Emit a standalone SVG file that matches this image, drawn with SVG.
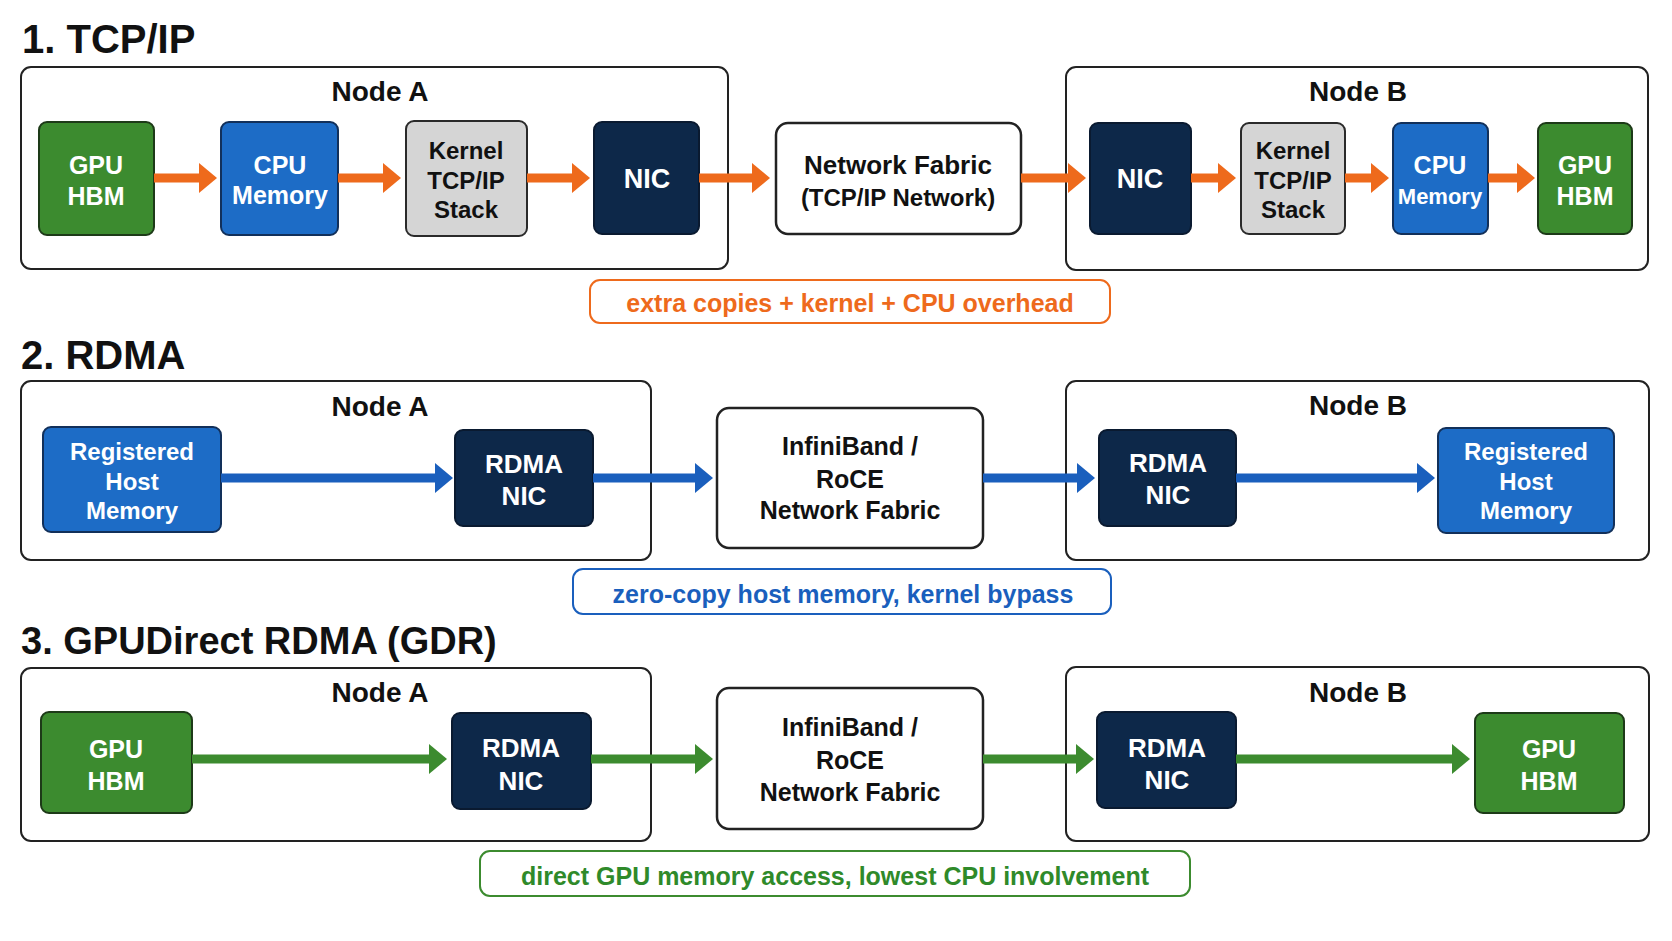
<svg xmlns="http://www.w3.org/2000/svg" width="1672" height="941" viewBox="0 0 1672 941">
<style>
text{font-family:"Liberation Sans",Arial,sans-serif;font-weight:bold;text-anchor:middle}
.title{font-size:40px;fill:#111;text-anchor:start}
.nodeLbl{font-size:28px;fill:#111}
.cont{fill:#fff;stroke:#222;stroke-width:2}
.gpu{fill:#3c8b2f;stroke:#1d3a18;stroke-width:2}
.cpu{fill:#1d6cc6;stroke:#12305a;stroke-width:2}
.kern{fill:#d5d5d5;stroke:#2a2a2a;stroke-width:2}
.nic{fill:#0d2849;stroke:#0a1a30;stroke-width:2}
.fab{fill:#fff;stroke:#222;stroke-width:2.5}
.wt{fill:#fff;font-size:25px}
.bt{fill:#111;font-size:24px}
.ft{fill:#111;font-size:25px}
.aO{stroke:#ee6a1c;stroke-width:9;fill:none}
.aB{stroke:#1a5fbd;stroke-width:9;fill:none}
.aG{stroke:#3c8b2f;stroke-width:9;fill:none}
.call{font-size:25px}
</style>
<defs>
<marker id="hO" markerUnits="userSpaceOnUse" markerWidth="18" markerHeight="30" refX="0" refY="15" orient="auto"><path d="M0,0 L18,15 L0,30 Z" fill="#ee6a1c"/></marker>
<marker id="hB" markerUnits="userSpaceOnUse" markerWidth="18" markerHeight="30" refX="0" refY="15" orient="auto"><path d="M0,0 L18,15 L0,30 Z" fill="#1a5fbd"/></marker>
<marker id="hG" markerUnits="userSpaceOnUse" markerWidth="18" markerHeight="30" refX="0" refY="15" orient="auto"><path d="M0,0 L18,15 L0,30 Z" fill="#3c8b2f"/></marker>
</defs>
<rect width="1672" height="941" fill="#fff"/>

<!-- Section 1 -->
<text class="title" x="22" y="53">1. TCP/IP</text>
<g id="s1-nodeA"><rect class="cont" x="21" y="67" width="707" height="202" rx="10"/><text class="nodeLbl" x="380" y="101">Node A</text></g>
<g id="s1-nodeB"><rect class="cont" x="1066" y="67" width="582" height="203" rx="10"/><text class="nodeLbl" x="1358" y="101">Node B</text></g>
<g id="s1-gpuA"><rect class="gpu" x="39" y="122" width="115" height="113" rx="8"/><text class="wt" x="96" y="174">GPU</text><text class="wt" x="96" y="205">HBM</text></g>
<g id="s1-cpuA"><rect class="cpu" x="221" y="122" width="117" height="113" rx="8"/><text class="wt" x="280" y="174">CPU</text><text class="wt" x="280" y="204">Memory</text></g>
<g id="s1-kernA"><rect class="kern" x="406" y="121" width="121" height="115" rx="8"/><text class="bt" x="466" y="159">Kernel</text><text class="bt" x="466" y="189">TCP/IP</text><text class="bt" x="466" y="218">Stack</text></g>
<g id="s1-nicA"><rect class="nic" x="594" y="122" width="105" height="112" rx="8"/><text class="wt" x="647" y="188" style="font-size:27px">NIC</text></g>
<g id="s1-fabric"><rect class="fab" x="776" y="123" width="245" height="111" rx="12"/><text class="ft" x="898" y="174" style="font-size:26px">Network Fabric</text><text class="ft" x="898" y="206" style="font-size:24px">(TCP/IP Network)</text></g>
<g id="s1-nicB"><rect class="nic" x="1090" y="123" width="101" height="111" rx="8"/><text class="wt" x="1140" y="188" style="font-size:27px">NIC</text></g>
<g id="s1-kernB"><rect class="kern" x="1241" y="123" width="104" height="111" rx="8"/><text class="bt" x="1293" y="159">Kernel</text><text class="bt" x="1293" y="189">TCP/IP</text><text class="bt" x="1293" y="218">Stack</text></g>
<g id="s1-cpuB"><rect class="cpu" x="1393" y="123" width="95" height="111" rx="8"/><text class="wt" x="1440" y="174">CPU</text><text class="wt" x="1440" y="204" style="font-size:22px">Memory</text></g>
<g id="s1-gpuB"><rect class="gpu" x="1538" y="123" width="94" height="111" rx="8"/><text class="wt" x="1585" y="174">GPU</text><text class="wt" x="1585" y="205">HBM</text></g>
<g id="s1-note"><rect x="590" y="280" width="520" height="43" rx="10" fill="#fff" stroke="#ee6a1c" stroke-width="2"/><text class="call" x="850" y="312" fill="#ee6a1c">extra copies + kernel + CPU overhead</text></g>

<!-- Section 2 -->
<text class="title" x="21" y="369">2. RDMA</text>
<g id="s2-nodeA"><rect class="cont" x="21" y="381" width="630" height="179" rx="10"/><text class="nodeLbl" x="380" y="416">Node A</text></g>
<g id="s2-nodeB"><rect class="cont" x="1066" y="381" width="583" height="179" rx="10"/><text class="nodeLbl" x="1358" y="415">Node B</text></g>
<g id="s2-memA"><rect class="cpu" x="43" y="427" width="178" height="105" rx="8"/><text class="wt" x="132" y="460" style="font-size:24px">Registered</text><text class="wt" x="132" y="490" style="font-size:24px">Host</text><text class="wt" x="132" y="519" style="font-size:24px">Memory</text></g>
<g id="s2-nicA"><rect class="nic" x="455" y="430" width="138" height="96" rx="8"/><text class="wt" x="524" y="473" style="font-size:26px">RDMA</text><text class="wt" x="524" y="505" style="font-size:26px">NIC</text></g>
<g id="s2-fabric"><rect class="fab" x="717" y="408" width="266" height="140" rx="12"/><text class="ft" x="850" y="455">InfiniBand /</text><text class="ft" x="850" y="488">RoCE</text><text class="ft" x="850" y="519">Network Fabric</text></g>
<g id="s2-nicB"><rect class="nic" x="1099" y="430" width="137" height="96" rx="8"/><text class="wt" x="1168" y="472" style="font-size:26px">RDMA</text><text class="wt" x="1168" y="504" style="font-size:26px">NIC</text></g>
<g id="s2-memB"><rect class="cpu" x="1438" y="428" width="176" height="105" rx="8"/><text class="wt" x="1526" y="460" style="font-size:24px">Registered</text><text class="wt" x="1526" y="490" style="font-size:24px">Host</text><text class="wt" x="1526" y="519" style="font-size:24px">Memory</text></g>
<g id="s2-note"><rect x="573" y="569" width="538" height="45" rx="10" fill="#fff" stroke="#1a5fbd" stroke-width="2"/><text class="call" x="843" y="603" fill="#1a5fbd">zero-copy host memory, kernel bypass</text></g>

<!-- Section 3 -->
<text class="title" x="21" y="654" style="font-size:38px">3. GPUDirect RDMA (GDR)</text>
<g id="s3-nodeA"><rect class="cont" x="21" y="668" width="630" height="173" rx="10"/><text class="nodeLbl" x="380" y="702">Node A</text></g>
<g id="s3-nodeB"><rect class="cont" x="1066" y="667" width="583" height="174" rx="10"/><text class="nodeLbl" x="1358" y="702">Node B</text></g>
<g id="s3-gpuA"><rect class="gpu" x="41" y="712" width="151" height="101" rx="8"/><text class="wt" x="116" y="758">GPU</text><text class="wt" x="116" y="790">HBM</text></g>
<g id="s3-nicA"><rect class="nic" x="452" y="713" width="139" height="96" rx="8"/><text class="wt" x="521" y="757" style="font-size:26px">RDMA</text><text class="wt" x="521" y="790" style="font-size:26px">NIC</text></g>
<g id="s3-fabric"><rect class="fab" x="717" y="688" width="266" height="141" rx="12"/><text class="ft" x="850" y="736">InfiniBand /</text><text class="ft" x="850" y="769">RoCE</text><text class="ft" x="850" y="801">Network Fabric</text></g>
<g id="s3-nicB"><rect class="nic" x="1097" y="712" width="139" height="96" rx="8"/><text class="wt" x="1167" y="757" style="font-size:26px">RDMA</text><text class="wt" x="1167" y="789" style="font-size:26px">NIC</text></g>
<g id="s3-gpuB"><rect class="gpu" x="1475" y="713" width="149" height="100" rx="8"/><text class="wt" x="1549" y="758">GPU</text><text class="wt" x="1549" y="790">HBM</text></g>
<g id="s3-note"><rect x="480" y="851" width="710" height="45" rx="10" fill="#fff" stroke="#3c8b2f" stroke-width="2"/><text class="call" x="835" y="885" fill="#2f8a2a">direct GPU memory access, lowest CPU involvement</text></g>

<g id="connectors">
<path class="aO" d="M154,178 H199" marker-end="url(#hO)"/>
<path class="aO" d="M338,178 H383" marker-end="url(#hO)"/>
<path class="aO" d="M527,178 H572" marker-end="url(#hO)"/>
<path class="aO" d="M699,178 H752" marker-end="url(#hO)"/>
<path class="aO" d="M1021,178 H1068" marker-end="url(#hO)"/>
<path class="aO" d="M1191,178 H1218" marker-end="url(#hO)"/>
<path class="aO" d="M1345,178 H1371" marker-end="url(#hO)"/>
<path class="aO" d="M1488,178 H1517" marker-end="url(#hO)"/>
<path class="aB" d="M221,478 H435" marker-end="url(#hB)"/>
<path class="aB" d="M593,478 H695" marker-end="url(#hB)"/>
<path class="aB" d="M983,478 H1077" marker-end="url(#hB)"/>
<path class="aB" d="M1236,478 H1417" marker-end="url(#hB)"/>
<path class="aG" d="M192,759 H429" marker-end="url(#hG)"/>
<path class="aG" d="M591,759 H695" marker-end="url(#hG)"/>
<path class="aG" d="M983,759 H1076" marker-end="url(#hG)"/>
<path class="aG" d="M1236,759 H1452" marker-end="url(#hG)"/>
</g>
</svg>
